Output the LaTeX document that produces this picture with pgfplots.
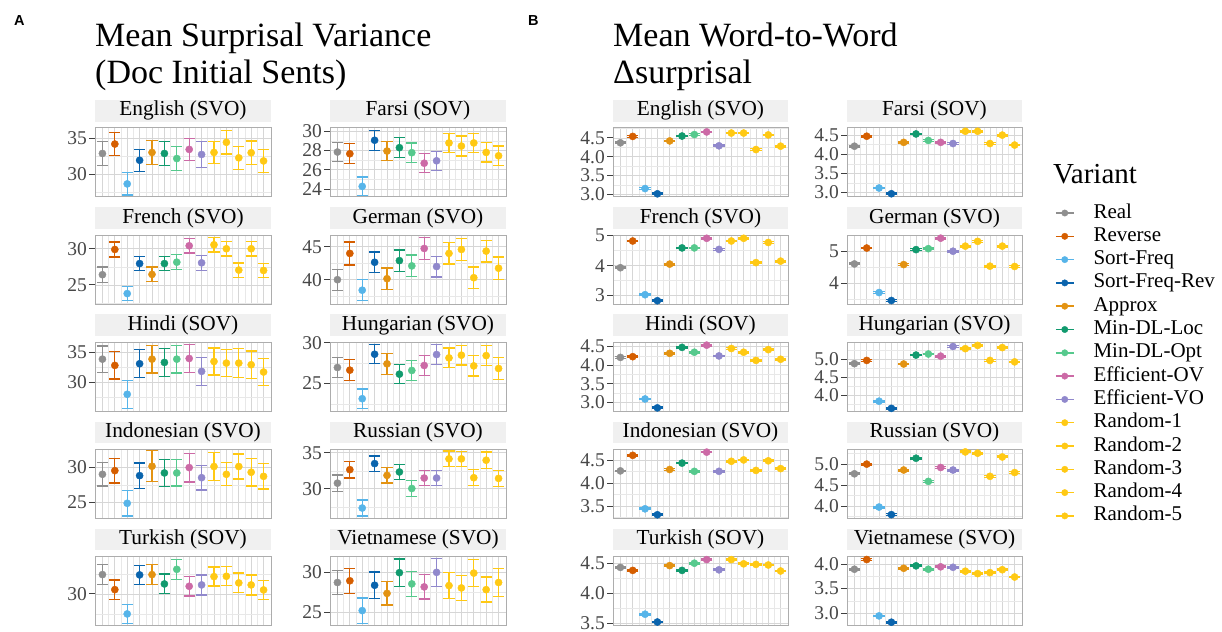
\documentclass[border=0pt]{standalone}
\usepackage{fontspec}
\setmainfont{Liberation Serif}
\newfontfamily\lsans{Liberation Sans}
\usepackage{pgfplots}
\usepackage{pgfplotstable}
\pgfplotsset{compat=1.18}

\definecolor{c0}{HTML}{8F8F8F}
\definecolor{c1}{HTML}{D55E00}
\definecolor{c2}{HTML}{56B4E9}
\definecolor{c3}{HTML}{0A64AD}
\definecolor{c4}{HTML}{E39312}
\definecolor{c5}{HTML}{119A6E}
\definecolor{c6}{HTML}{56C98D}
\definecolor{c7}{HTML}{CC6AA6}
\definecolor{c8}{HTML}{9088CC}
\definecolor{c9}{HTML}{FFC914}
\definecolor{c10}{HTML}{FFC914}
\definecolor{c11}{HTML}{FFC914}
\definecolor{c12}{HTML}{FFC914}
\definecolor{c13}{HTML}{FFC914}

\pgfplotsset{
  panel/.style={
    scale only axis, height=69bp, anchor=north west,
    xmin=0.4, xmax=14.6,
    xtick={1,...,14}, minor xtick={1.5,2.5,...,13.5}, xticklabels={},
    grid=both,
    major grid style={draw=black!16, line width=0.8bp},
    minor grid style={draw=black!9, line width=0.6bp},
    axis line style={draw=black!32, line width=1bp},
    tick align=outside, major tick length=6bp, minor tick length=0pt,
    ytick pos=left,
    x tick style={draw=none},
    y tick style={draw=black!75, line width=0.9bp},
    /pgf/number format/assume math mode=true,
    yticklabel style={font=\fontsize{19.5bp}{19.5bp}\selectfont, text=black!72, inner xsep=2bp},
    title style={at={(0.5,1)}, anchor=south, yshift=0pt, fill=black!6,
      minimum height=21.7bp, inner sep=0pt,
      font=\fontsize{21.3bp}{21.3bp}\selectfont},
    clip=false,
  },
  colA/.style={width=176bp, title style={minimum width=176bp}},
  colB/.style={width=175bp, title style={minimum width=175bp}},
  dec/.style={yticklabel style={/pgf/number format/fixed, /pgf/number format/fixed zerofill, /pgf/number format/precision=1}},
}

\newcommand\panel[9][]{%
\begin{axis}[panel, at={(#2bp,-#3bp)}, title={#4}, ymin=#6, ymax=#7, ytick={#8}, minor ytick={#9}, #1]
\pgfplotsinvokeforeach{0,...,13}{%
  \addplot[c##1, mark=*, mark size=3.6bp, only marks,
    error bars/.cd, y dir=both, y explicit,
    error bar style={line width=1.3bp},
    error mark options={rotate=90, mark size=5.6bp, line width=1.3bp}]
  table[x expr=\coordindex+1, y=y, y error=e, restrict expr to domain={\coordindex}{##1:##1}] {#5};}
\end{axis}}

\pgfplotstableread[row sep=\\]{y e\\ 32.9 1.65\\ 34.2 1.6\\ 28.7 1.55\\ 31.96 1.52\\ 33.04 1.63\\ 32.9 1.65\\ 32.2 1.65\\ 33.46 1.52\\ 32.76 1.75\\ 33.04 1.55\\ 34.44 1.63\\ 32.3 1.57\\ 33.0 1.63\\ 31.87 1.58\\}\tEngA
\pgfplotstableread[row sep=\\]{y e\\ 27.84 0.99\\ 27.66 1.03\\ 24.28 0.96\\ 29.06 1.03\\ 27.94 1.01\\ 28.29 1.03\\ 27.77 1.01\\ 26.68 0.98\\ 26.93 0.99\\ 28.78 0.98\\ 28.46 1.03\\ 28.78 1.0\\ 27.8 1.0\\ 27.45 1.0\\}\tFarA
\pgfplotstableread[row sep=\\]{y e\\ 26.41 1.07\\ 29.9 1.05\\ 23.8 0.98\\ 27.95 0.93\\ 26.45 1.02\\ 27.95 0.98\\ 28.14 1.02\\ 30.41 0.98\\ 28.05 1.02\\ 30.55 1.02\\ 30.0 1.02\\ 27.05 1.0\\ 30.0 1.0\\ 27.0 0.98\\}\tFreA
\pgfplotstableread[row sep=\\]{y e\\ 40.0 1.6\\ 44.0 1.75\\ 38.4 1.6\\ 42.65 1.58\\ 40.15 1.65\\ 42.9 1.63\\ 42.1 1.65\\ 44.75 1.68\\ 42.0 1.58\\ 44.0 1.63\\ 44.6 1.65\\ 40.3 1.63\\ 44.35 1.65\\ 41.75 1.68\\}\tGerA
\pgfplotstableread[row sep=\\]{y e\\ 33.83 2.22\\ 32.78 2.28\\ 27.94 2.36\\ 33.06 2.33\\ 33.83 2.3\\ 33.28 2.33\\ 33.83 2.3\\ 33.94 2.33\\ 31.78 2.36\\ 33.44 2.28\\ 33.17 2.25\\ 33.17 2.44\\ 32.89 2.33\\ 31.67 2.28\\}\tHinA
\pgfplotstableread[row sep=\\]{y e\\ 26.95 1.22\\ 26.63 1.26\\ 23.13 1.2\\ 28.58 1.18\\ 27.4 1.28\\ 26.14 1.18\\ 26.59 1.2\\ 27.2 1.2\\ 28.54 1.26\\ 28.13 1.22\\ 28.46 1.2\\ 27.15 1.24\\ 28.41 1.22\\ 26.83 1.32\\}\tHunA
\pgfplotstableread[row sep=\\]{y e\\ 29.0 1.67\\ 29.52 1.74\\ 24.9 1.79\\ 28.81 1.79\\ 30.14 2.19\\ 29.19 1.9\\ 29.19 1.86\\ 29.95 2.02\\ 28.52 1.74\\ 30.1 2.02\\ 29.0 1.62\\ 30.1 1.76\\ 29.29 1.95\\ 28.71 1.81\\}\tIndA
\pgfplotstableread[row sep=\\]{y e\\ 30.79 1.12\\ 32.66 1.14\\ 27.34 1.1\\ 33.5 1.07\\ 31.87 1.07\\ 32.34 1.05\\ 30.05 1.12\\ 31.5 1.07\\ 31.5 1.07\\ 34.16 1.07\\ 34.16 1.05\\ 31.54 1.12\\ 33.97 1.12\\ 31.45 1.1\\}\tRusA
\pgfplotstableread[row sep=\\]{y e\\ 32.42 1.25\\ 30.54 1.21\\ 27.5 1.21\\ 32.38 1.19\\ 32.42 1.25\\ 31.25 1.23\\ 33.08 1.25\\ 30.96 1.21\\ 31.13 1.25\\ 32.17 1.19\\ 32.21 1.19\\ 31.38 1.23\\ 31.13 1.25\\ 30.5 1.21\\}\tTurA
\pgfplotstableread[row sep=\\]{y e\\ 28.71 1.5\\ 28.92 1.54\\ 25.25 1.56\\ 28.37 1.65\\ 27.37 1.44\\ 29.92 1.67\\ 28.54 1.56\\ 28.17 1.5\\ 29.96 1.73\\ 28.33 1.63\\ 28.04 1.52\\ 29.87 1.67\\ 27.83 1.54\\ 28.71 1.69\\}\tVieA

\pgfplotstableread[row sep=\\]{y e\\ 4.37 0.02\\ 4.54 0.02\\ 3.15 0.02\\ 3.01 0.02\\ 4.42 0.02\\ 4.55 0.02\\ 4.59 0.02\\ 4.66 0.02\\ 4.29 0.02\\ 4.63 0.02\\ 4.63 0.02\\ 4.19 0.02\\ 4.58 0.02\\ 4.28 0.02\\}\tEngB
\pgfplotstableread[row sep=\\]{y e\\ 4.21 0.02\\ 4.47 0.02\\ 3.12 0.02\\ 2.97 0.02\\ 4.31 0.02\\ 4.53 0.02\\ 4.36 0.02\\ 4.31 0.02\\ 4.28 0.02\\ 4.6 0.02\\ 4.6 0.02\\ 4.28 0.02\\ 4.5 0.02\\ 4.24 0.02\\}\tFarB
\pgfplotstableread[row sep=\\]{y e\\ 3.93 0.025\\ 4.82 0.025\\ 3.03 0.025\\ 2.83 0.025\\ 4.05 0.025\\ 4.59 0.025\\ 4.59 0.025\\ 4.91 0.025\\ 4.54 0.025\\ 4.82 0.025\\ 4.91 0.025\\ 4.1 0.025\\ 4.77 0.025\\ 4.15 0.025\\}\tFreB
\pgfplotstableread[row sep=\\]{y e\\ 4.6 0.025\\ 5.1 0.025\\ 3.7 0.025\\ 3.45 0.025\\ 4.58 0.025\\ 5.05 0.025\\ 5.08 0.025\\ 5.41 0.025\\ 5.0 0.025\\ 5.16 0.025\\ 5.31 0.025\\ 4.53 0.025\\ 5.16 0.025\\ 4.52 0.025\\}\tGerB
\pgfplotstableread[row sep=\\]{y e\\ 4.21 0.02\\ 4.23 0.02\\ 3.09 0.02\\ 2.85 0.02\\ 4.32 0.02\\ 4.48 0.02\\ 4.35 0.02\\ 4.54 0.02\\ 4.25 0.02\\ 4.45 0.02\\ 4.35 0.02\\ 4.13 0.02\\ 4.42 0.02\\ 4.16 0.02\\}\tHinB
\pgfplotstableread[row sep=\\]{y e\\ 4.88 0.02\\ 4.97 0.02\\ 3.83 0.02\\ 3.63 0.02\\ 4.87 0.02\\ 5.12 0.02\\ 5.15 0.02\\ 5.09 0.02\\ 5.36 0.02\\ 5.3 0.02\\ 5.39 0.02\\ 4.97 0.02\\ 5.33 0.02\\ 4.93 0.02\\}\tHunB
\pgfplotstableread[row sep=\\]{y e\\ 4.27 0.015\\ 4.61 0.015\\ 3.44 0.015\\ 3.31 0.015\\ 4.3 0.015\\ 4.44 0.015\\ 4.26 0.015\\ 4.68 0.015\\ 4.26 0.015\\ 4.48 0.015\\ 4.51 0.015\\ 4.28 0.015\\ 4.49 0.015\\ 4.32 0.015\\}\tIndB
\pgfplotstableread[row sep=\\]{y e\\ 4.77 0.02\\ 5.0 0.02\\ 3.98 0.02\\ 3.8 0.02\\ 4.86 0.02\\ 5.14 0.02\\ 4.59 0.02\\ 4.92 0.02\\ 4.86 0.02\\ 5.29 0.02\\ 5.26 0.02\\ 4.71 0.02\\ 5.17 0.02\\ 4.8 0.02\\}\tRusB
\pgfplotstableread[row sep=\\]{y e\\ 4.43 0.012\\ 4.38 0.012\\ 3.65 0.012\\ 3.52 0.012\\ 4.46 0.012\\ 4.38 0.012\\ 4.5 0.012\\ 4.56 0.012\\ 4.39 0.012\\ 4.56 0.012\\ 4.49 0.012\\ 4.48 0.012\\ 4.47 0.012\\ 4.37 0.012\\}\tTurB
\pgfplotstableread[row sep=\\]{y e\\ 3.9 0.015\\ 4.1 0.015\\ 2.94 0.015\\ 2.81 0.015\\ 3.92 0.015\\ 3.97 0.015\\ 3.9 0.015\\ 3.95 0.015\\ 3.94 0.015\\ 3.86 0.015\\ 3.81 0.015\\ 3.83 0.015\\ 3.89 0.015\\ 3.74 0.015\\}\tVieB

\begin{document}
\begin{tikzpicture}
\path[use as bounding box] (0,0) rectangle (1222bp,-632bp);

\node[anchor=base west, inner sep=0pt, font=\lsans\bfseries\fontsize{14.5bp}{14.5bp}\selectfont] at (14bp,-25bp) {A};
\node[anchor=base west, inner sep=0pt, font=\lsans\bfseries\fontsize{14.5bp}{14.5bp}\selectfont] at (528bp,-25bp) {B};
\node[anchor=base west, inner sep=0pt, font=\fontsize{34bp}{34bp}\selectfont] at (95bp,-46bp) {Mean Surprisal Variance};
\node[anchor=base west, inner sep=0pt, font=\fontsize{34bp}{34bp}\selectfont] at (95bp,-83bp) {(Doc Initial Sents)};
\node[anchor=base west, inner sep=0pt, font=\fontsize{34bp}{34bp}\selectfont] at (613bp,-46bp) {Mean Word-to-Word};
\node[anchor=base west, inner sep=0pt, font=\fontsize{34bp}{34bp}\selectfont] at (613bp,-83bp) {Δsurprisal};

\panel[colA]{95}{127.8}{English (SVO)}{\tEngA}{26.92}{36.44}{30,35}{27.5,32.5}
\panel[colA]{330}{127.8}{Farsi (SOV)}{\tFarA}{23.2}{30.35}{24,26,28,30}{23,25,27,29}
\panel[colA]{95}{235}{French (SVO)}{\tFreA}{22.36}{31.9}{25,30}{22.5,27.5}
\panel[colA]{330}{235}{German (SVO)}{\tGerA}{36.3}{46.8}{40,45}{37.5,42.5}
\panel[colA]{95}{342.2}{Hindi (SOV)}{\tHinA}{25.1}{36.67}{30,35}{27.5,32.5}
\panel[colA]{330}{342.2}{Hungarian (SVO)}{\tHunA}{21.6}{30.05}{25,30}{22.5,27.5}
\panel[colA]{95}{449.4}{Indonesian (SVO)}{\tIndA}{22.76}{32.52}{25,30}{22.5,27.5,32.5}
\panel[colA]{330}{449.4}{Russian (SVO)}{\tRusA}{25.9}{35.47}{30,35}{27.5,32.5}
\panel[colA]{95}{556.6}{Turkish (SOV)}{\tTurA}{26.04}{34.67}{30}{27.5,32.5}
\panel[colA]{330}{556.6}{Vietnamese (SVO)}{\tVieA}{23.4}{31.9}{25,30}{27.5}

\panel[colB,dec]{613}{127.8}{English (SVO)}{\tEngB}{2.93}{4.77}{3,3.5,4,4.5}{3.25,3.75,4.25,4.75}
\panel[colB,dec]{847}{127.8}{Farsi (SOV)}{\tFarB}{2.89}{4.69}{3,3.5,4,4.5}{3.25,3.75,4.25}
\panel[colB]{613}{235}{French (SVO)}{\tFreB}{2.72}{5.02}{3,4,5}{3.5,4.5}
\panel[colB]{847}{235}{German (SVO)}{\tGerB}{3.34}{5.51}{4,5}{3.5,4.5,5.5}
\panel[colB,dec]{613}{342.2}{Hindi (SOV)}{\tHinB}{2.76}{4.62}{3,3.5,4,4.5}{3.25,3.75,4.25}
\panel[colB,dec]{847}{342.2}{Hungarian (SVO)}{\tHunB}{3.55}{5.48}{4,4.5,5}{3.75,4.25,4.75,5.25}
\panel[colB,dec]{613}{449.4}{Indonesian (SVO)}{\tIndB}{3.23}{4.74}{3.5,4,4.5}{3.25,3.75,4.25}
\panel[colB,dec]{847}{449.4}{Russian (SVO)}{\tRusB}{3.71}{5.35}{4,4.5,5}{3.75,4.25,4.75,5.25}
\panel[colB,dec]{613}{556.6}{Turkish (SOV)}{\tTurB}{3.46}{4.61}{3.5,4,4.5}{3.75,4.25}
\panel[colB,dec]{847}{556.6}{Vietnamese (SVO)}{\tVieB}{2.74}{4.16}{3,3.5,4}{2.75,3.25,3.75}

\node[anchor=base west, inner sep=0pt, font=\fontsize{29bp}{29bp}\selectfont] at (1053bp,-183bp) {Variant};

\begin{axis}[hide axis, scale only axis, width=10bp, height=10bp,
  at={(1055bp,-201.35bp)}, anchor=north west,
  xmin=0, xmax=1, ymin=0, ymax=1,
  legend cell align=left,
  legend style={at={(0,1)}, anchor=north west, draw=none, fill=none,
    inner sep=0pt, outer sep=0pt, row sep=0pt,
    font=\fontsize{21bp}{21bp}\selectfont,
    nodes={inner sep=0pt, minimum height=23.3bp, text height=14bp, text depth=4bp},
    /tikz/every odd column/.append style={column sep=19bp}},
  legend image code/.code={\draw[#1, line width=1.5bp] (0bp,0bp) -- (18bp,0bp); \fill[#1] (9bp,0bp) circle (3.2bp);}]
\pgfplotsinvokeforeach{0,...,13}{\addlegendimage{c#1}}
\legend{Real, Reverse, Sort-Freq, Sort-Freq-Rev, Approx, Min-DL-Loc, Min-DL-Opt, Efficient-OV, Efficient-VO, Random-1, Random-2, Random-3, Random-4, Random-5}
\end{axis}
\end{tikzpicture}
\end{document}
